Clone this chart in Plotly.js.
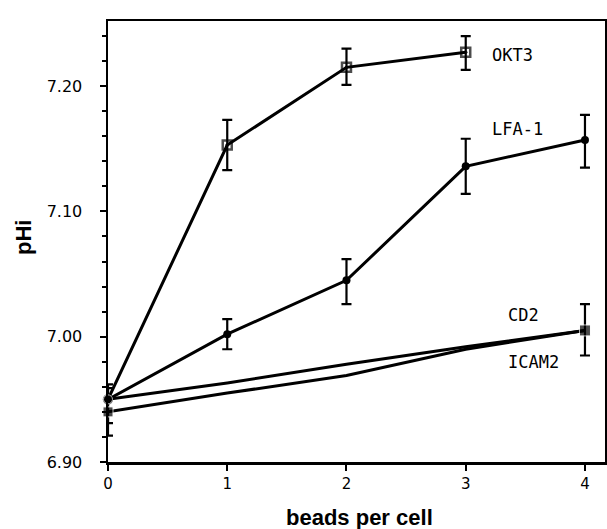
<!DOCTYPE html>
<html>
<head>
<meta charset="utf-8">
<script src="https://cdn.plot.ly/plotly-3.0.1.min.js"></script>
<style>html,body{margin:0;padding:0;background:#fff;}#chart{width:607px;height:529px;}</style>
</head>
<body>
<div id="chart"></div>
<script>
// beads per cell
var beads = [0, 1, 2, 3, 4];

// OKT3
var okt3X = [0, 1, 2, 3];
var okt3Y = [6.95, 7.153, 7.215, 7.227];
var okt3ErrPlus = [0, 0.020, 0.015, 0.013];
var okt3ErrMinus = [0, 0.020, 0.014, 0.014];

// LFA-1
var lfaX = [0, 1, 2, 3, 4];
var lfaY = [6.95, 7.002, 7.045, 7.136, 7.157];
var lfaErrPlus = [0, 0.012, 0.017, 0.022, 0.020];
var lfaErrMinus = [0, 0.012, 0.019, 0.022, 0.022];

// CD2 (drawn curve)
var cd2Y = [6.95, 6.963, 6.978, 6.992, 7.005];
// ICAM2 (drawn curve)
var icamY = [6.94, 6.955, 6.969, 6.990, 7.005];

// shared end points with error bars
var endX = [0, 0, 4];
var endY = [6.95, 6.94, 7.005];
var endErrPlus = [0.012, 0.019, 0.021];
var endErrMinus = [0.019, 0.019, 0.020];

var yTicks = [6.90, 7.00, 7.10, 7.20];
var xTicks = [0, 1, 2, 3, 4];

var labels = ["OKT3", "LFA-1", "CD2", "ICAM2"];
var labelX = [3.2, 3.2, 3.34, 3.34];
var labelY = [7.225, 7.166, 7.017, 6.980];

var lineStyle = {color: "#000", width: 3};
var errStyle = function (p, m) {
  return {type: "data", symmetric: false, array: p, arrayminus: m,
          color: "#000", thickness: 2.2, width: 5};
};

var traces = [
  {x: beads, y: cd2Y, mode: "lines", line: lineStyle, cliponaxis: false, hoverinfo: "skip"},
  {x: beads, y: icamY, mode: "lines", line: lineStyle, cliponaxis: false, hoverinfo: "skip"},
  {x: lfaX, y: lfaY, mode: "lines+markers", line: lineStyle, cliponaxis: false,
   marker: {symbol: "circle", size: 8, color: "#000"},
   error_y: errStyle(lfaErrPlus, lfaErrMinus)},
  {x: okt3X, y: okt3Y, mode: "lines+markers", line: lineStyle, cliponaxis: false,
   marker: {symbol: ["circle", "square-open-dot", "square-open-dot", "square-open-dot"],
            size: [8, 9, 9, 9], color: "#000", line: {color: "#000", width: 2.5}},
   error_y: errStyle(okt3ErrPlus, okt3ErrMinus)},
  {x: endX, y: endY, mode: "markers", cliponaxis: false,
   marker: {symbol: ["circle", "square", "square"], size: [9, 10, 11], color: "#000"},
   error_y: errStyle(endErrPlus, endErrMinus)}
];

var annotations = labels.map(function (t, i) {
  return {x: labelX[i], y: labelY[i], xref: "x", yref: "y", text: t, showarrow: false,
          xanchor: "left", yanchor: "middle",
          font: {family: "DejaVu Sans Mono", size: 17, color: "#000"}};
});
annotations.push({x: 0, y: 0.508, xref: "paper", yref: "paper", text: "<b>pHi</b>",
  showarrow: false, textangle: -90, xshift: -84, xanchor: "center", yanchor: "middle",
  font: {family: "Liberation Sans", size: 22, color: "#000"}});
annotations.push({x: 0.507, y: 0, xref: "paper", yref: "paper", text: "<b>beads per cell</b>",
  showarrow: false, yshift: -55, xanchor: "center", yanchor: "middle",
  font: {family: "Liberation Sans", size: 22, color: "#000"}});

var layout = {
  width: 607, height: 529,
  margin: {l: 108, r: 2, t: 21, b: 67},
  paper_bgcolor: "#fff", plot_bgcolor: "#fff",
  showlegend: false,
  xaxis: {range: [0, 4.168], tickvals: xTicks, ticktext: xTicks.map(String),
          showline: true, linewidth: 2.5, linecolor: "#000", mirror: true,
          ticks: "outside", ticklen: 6, tickwidth: 2, tickcolor: "#000",
          showgrid: false, zeroline: false, ticklabelstandoff: 0,
          tickfont: {family: "DejaVu Sans", size: 15, color: "#000"}},
  yaxis: {range: [6.90, 7.252], tickvals: yTicks, ticktext: yTicks.map(function (v) { return v.toFixed(2); }),
          showline: true, linewidth: 2.5, linecolor: "#000", mirror: true,
          ticks: "outside", ticklen: 6, tickwidth: 2, tickcolor: "#000",
          showgrid: false, zeroline: false, ticklabelstandoff: 14,
          minor: {dtick: 0.02, tick0: 6.90, ticks: "outside", ticklen: 4, tickwidth: 2, tickcolor: "#000", showgrid: false},
          tickfont: {family: "DejaVu Sans", size: 16, color: "#000"}},
  annotations: annotations
};

Plotly.newPlot("chart", traces, layout, {displayModeBar: false, staticPlot: true});
</script>
</body>
</html>
